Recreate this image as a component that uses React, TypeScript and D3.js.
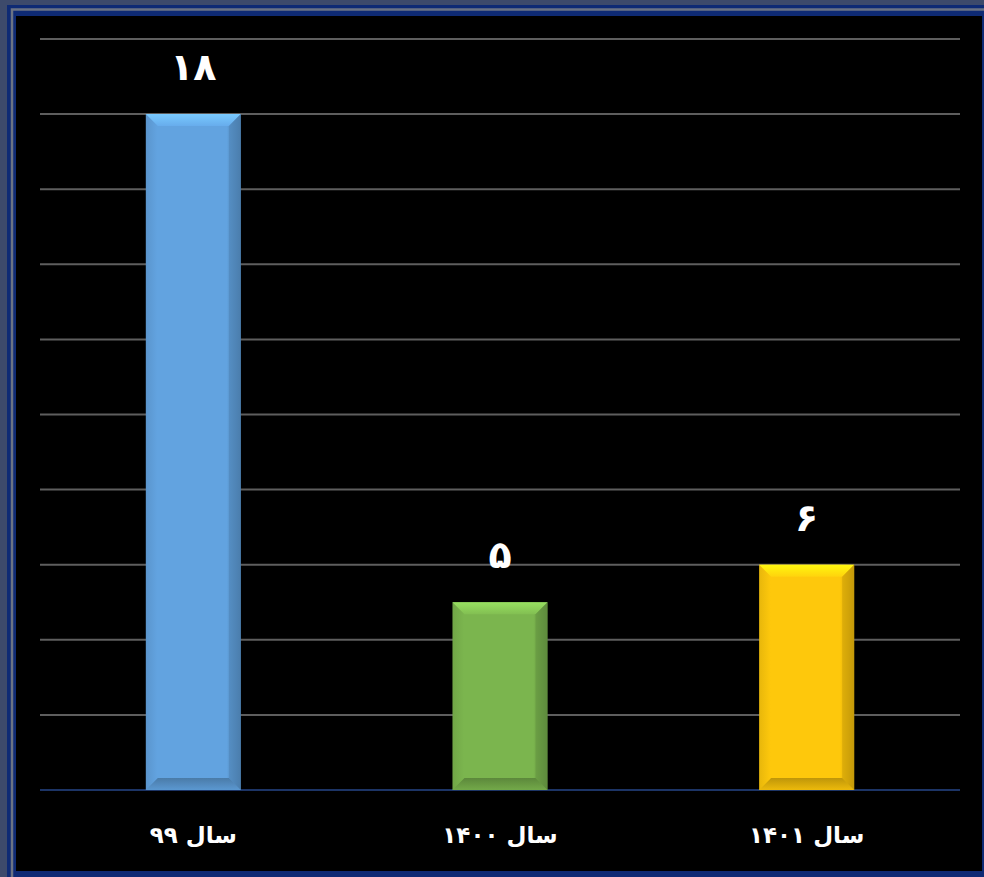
import React from "react";
import * as d3 from "d3";

const categories = ["سال ۹۹", "سال ۱۴۰۰", "سال ۱۴۰۱"];
const values = [18, 5, 6];
const valueLabels = ["۱۸", "۵", "۶"];
const barColors = ["#62a3e0", "#7bb54e", "#fec80c"];
const yTicks = [0, 2, 4, 6, 8, 10, 12, 14, 16, 18, 20];

const W = 984;
const H = 877;

export default function App() {
  const x = d3.scaleBand<string>().domain(categories).range([40, 960]).padding(0);
  const y = d3.scaleLinear().domain([0, 20]).range([790, 39]);
  const barW = x.bandwidth() * 0.31;
  const b = 12;
  const font = "'DejaVu Sans', sans-serif";

  return (
    <svg width={W} height={H} style={{ position: "absolute", left: 0, top: 0, display: "block" }}>
      <defs>
        {barColors.map((c, i) => {
          const col = d3.color(c)!;
          return (
            <g key={i}>
              <linearGradient id={`h${i}`} x1="0" x2="1" y1="0" y2="0">
                <stop offset="0" stopColor={d3.color(c)!.darker(0.25).toString()} />
                <stop offset="0.12" stopColor={c} />
                <stop offset="0.85" stopColor={c} />
                <stop offset="1" stopColor={col.darker(0.9).toString()} />
              </linearGradient>
              <linearGradient id={`t${i}`} x1="0" x2="0" y1="0" y2="1">
                <stop offset="0" stopColor={d3.color(c)!.brighter(0.6).toString()} />
                <stop offset="1" stopColor={d3.color(c)!.brighter(0.15).toString()} />
              </linearGradient>
              <linearGradient id={`b${i}`} x1="0" x2="0" y1="0" y2="1">
                <stop offset="0" stopColor={d3.color(c)!.darker(0.8).toString()} />
                <stop offset="1" stopColor={d3.color(c)!.darker(0.2).toString()} />
              </linearGradient>
            </g>
          );
        })}
      </defs>
      <rect x={0} y={0} width={W} height={H} fill="#3d4a6b" />
      <rect x={7} y={5} width={W - 7} height={H - 5} fill="#0e2a74" />
      <path d={`M12,${H} L12,9.5 L${W},9.5`} stroke="#6b7384" strokeWidth={2.5} fill="none" />
      <rect x={16} y={16} width={966} height={855} fill="#000" />

      {yTicks.map((t) => (
        <line key={t} x1={40} x2={960} y1={y(t)} y2={y(t)}
          stroke={t === 0 ? "#1c3466" : "#5e5e5e"} strokeWidth={2} />
      ))}

      {categories.map((cat, i) => {
        const cx = x(cat)! + x.bandwidth() / 2;
        const x0 = cx - barW / 2;
        const x1 = cx + barW / 2;
        const y0 = y(values[i]);
        const y1 = y(0);
        return (
          <g key={cat}>
            <rect x={x0} y={y0} width={barW} height={y1 - y0} fill={`url(#h${i})`} />
            <polygon points={`${x0},${y0} ${x1},${y0} ${x1 - b},${y0 + b} ${x0 + b},${y0 + b}`} fill={`url(#t${i})`} />
            <polygon points={`${x1},${y0} ${x1},${y1} ${x1 - b},${y1 - b} ${x1 - b},${y0 + b}`} fill={d3.color(barColors[i])!.darker(0.6).toString()} opacity={0.55} />
            <polygon points={`${x0},${y1} ${x1},${y1} ${x1 - b},${y1 - b} ${x0 + b},${y1 - b}`} fill={`url(#b${i})`} />
            <text x={cx} y={y0 - 34} textAnchor="middle" fill="#fff" fontFamily={font}
              fontWeight="bold" fontSize={38}>{valueLabels[i]}</text>
            <text x={cx} y={843} textAnchor="middle" fill="#fff" fontFamily={font}
              fontWeight="bold" fontSize={23} direction="rtl">{cat}</text>
          </g>
        );
      })}
    </svg>
  );
}
